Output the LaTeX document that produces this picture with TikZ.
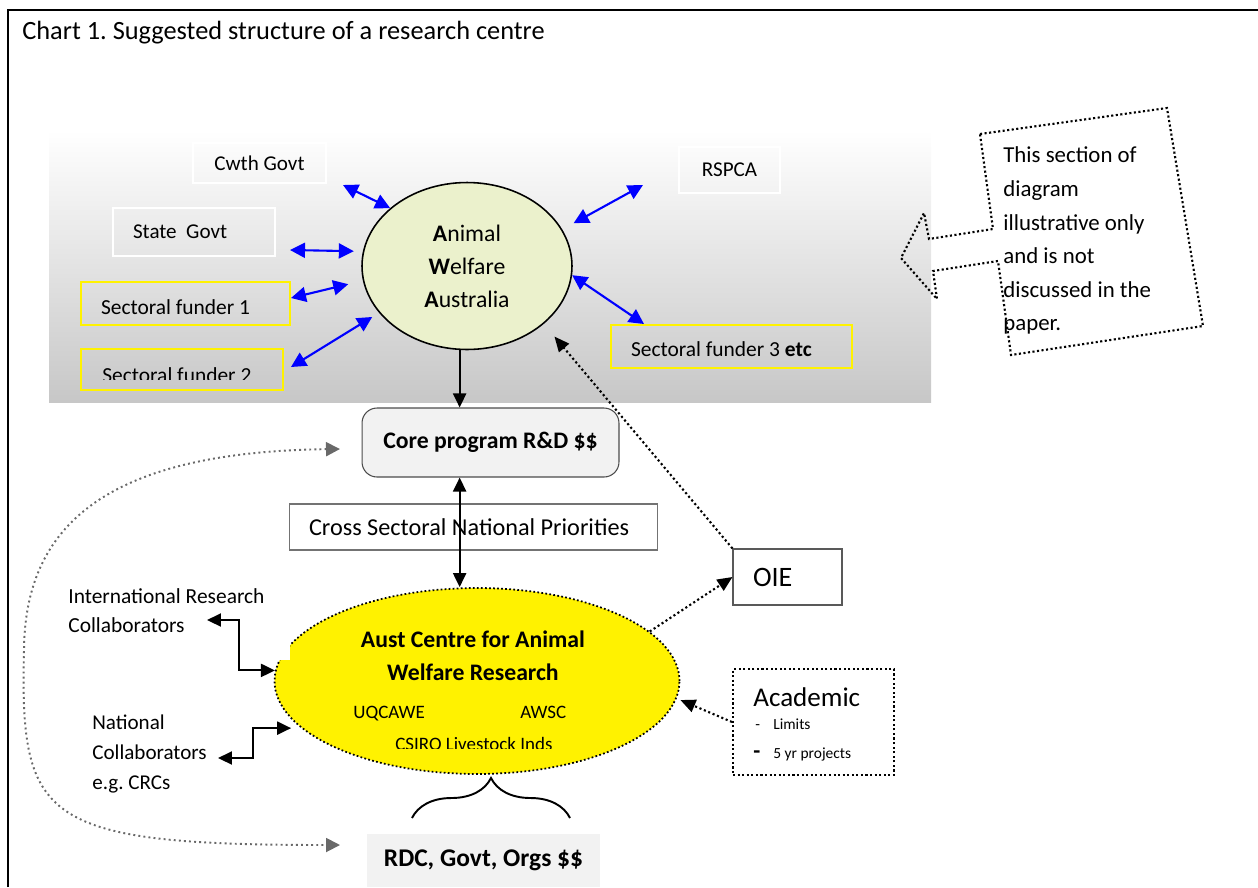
\documentclass[tikz,border=0pt]{standalone}
\usepackage{fontspec}
\setmainfont{Carlito}
\usetikzlibrary{positioning,shapes.geometric,arrows.meta,decorations.pathreplacing}
\frenchspacing

\definecolor{awafill}{RGB}{235,241,204}
\definecolor{boxgray}{RGB}{242,242,242}
\definecolor{curvegray}{RGB}{105,105,105}

\begin{document}
\begin{tikzpicture}[
  x=0.02cm, y=-0.02cm,
  every node/.style={font=\fontsize{12}{14}\selectfont},
  txt/.style={inner sep=0pt},
  padbox/.style={inner xsep=0.4cm, inner ysep=0pt, text width=#1, align=flush left},
  whitebox/.style={draw=white, line width=0.8pt},
  yelbox/.style={draw=yellow, line width=1.2pt, font=\fontsize{12.2}{14}\selectfont},
  dotbox/.style={line width=1.2pt, dash pattern=on 1.2pt off 1.4pt},
  bluearr/.style={{Triangle[length=0.3cm,width=0.3cm]}-{Triangle[length=0.3cm,width=0.3cm]}, blue, line width=1.2pt},
  blkarr/.style={-{Triangle[length=0.28cm,width=0.26cm]}, line width=1.2pt},
  blkdbl/.style={{Triangle[length=0.28cm,width=0.26cm]}-{Triangle[length=0.28cm,width=0.26cm]}, line width=1.2pt},
  dotarr/.style={-{Triangle[length=0.3cm,width=0.26cm]}, line width=1.2pt, dash pattern=on 1.2pt off 1.5pt},
  greyarr/.style={{Triangle[length=0.28cm,width=0.28cm]}-{Triangle[length=0.28cm,width=0.28cm]}, curvegray, line width=1.1pt, dash pattern=on 1.1pt off 1.8pt}
]
\useasboundingbox (0,0) rectangle (1258,887);

% outer frame and the shaded band behind the upper part
\draw[line width=1.1pt] (8,887) -- (8,10) -- (1258,10);
\shade[top color=white, bottom color=black!22] (49,130) rectangle (931,402);

\node[txt, anchor=base west, font=\fontsize{15}{18}\selectfont] (title) at (22,39.5) {Chart 1. Suggested structure of a research centre};

% funders around Animal Welfare Australia
\node[whitebox, minimum width=2.66cm, minimum height=0.8cm] (cwth) at (259.5,163) {Cwth Govt};
\node[whitebox, minimum width=2.02cm, minimum height=0.92cm] (rspca) at (729.5,170) {RSPCA};
\node[whitebox, padbox=2.44cm, minimum height=0.96cm] (state) at (194,232) {State~ Govt};
\node[yelbox, padbox=3.38cm, minimum height=0.86cm, text height=0.44cm] (sf1) at (185.5,303.5) {Sectoral funder 1};
\node[yelbox, padbox=3.24cm, minimum height=0.82cm] (sf2) at (182,369.5) {};
\begin{scope}
  \clip (81,349) rectangle (283,379);
  \node[txt, anchor=base west, font=\fontsize{12.2}{14}\selectfont] (sf2txt) at (102,382) {Sectoral funder 2};
\end{scope}
\node[yelbox, padbox=4.02cm, minimum height=0.86cm, text height=0.42cm] (sf3) at (731.5,346.5) {Sectoral funder 3 \textbf{etc}};

\node[ellipse, draw, line width=0.9pt, fill=awafill, minimum width=4.2cm, minimum height=3.34cm,
      inner sep=0pt, align=center, font=\fontsize{13.5}{18.8}\selectfont] (awa) at (467,266)
      {\textbf{A}nimal\\\textbf{W}elfare\\\textbf{A}ustralia};

\coordinate (cwthA)  at (343,185);
\coordinate (stateA) at (290,250);
\coordinate (sf1A)   at (291,298);
\coordinate (sf2A)   at (291,367);
\coordinate (rspcaA) at (643,185);
\coordinate (sf3A)   at (644,324);
\draw[bluearr] (cwthA) -- (awa.143);
\draw[bluearr, shorten >=0.18cm] (stateA) -- (awa.172);
\draw[bluearr, shorten >=0.3cm] (sf1A) -- (awa.188);
\draw[bluearr, shorten >=0.16cm] (sf2A) -- (awa.208);
\draw[bluearr, shorten >=0.26cm] (rspcaA) -- (awa.21);
\draw[bluearr] (sf3A) -- (awa.-5);

% note on the right
\draw[dotbox] (980,134) -- (1167,108) -- (1203,326) -- (1011,355) -- (998,261) -- (933,271)
  -- (937,299) -- (901,258) -- (924,213) -- (929,239) -- (993,229) -- cycle;
\node[txt, anchor=west, align=left, font=\fontsize{13}{19.1}\selectfont] (note) at (1003,240.7)
  {This section of\\diagram\\illustrative only\\and is not\\discussed in the\\paper.};

% core funding and the centre
\node[draw=black!70, fill=boxgray, rounded corners=0.3cm, line width=0.6pt, minimum width=5.14cm,
      minimum height=1.38cm, font=\bfseries\fontsize{13.5}{16}\selectfont] (core) at (490.5,442.5) {Core program R\&D \$\$};
\node[draw=black!55, line width=0.6pt, padbox=6.58cm, minimum height=0.92cm,
      font=\fontsize{13.8}{16}\selectfont] (cross) at (473.5,527) {Cross Sectoral National Priorities};
\node[draw=black!65, line width=0.6pt, padbox=1.38cm, minimum height=1.12cm,
      font=\fontsize{16}{19}\selectfont] (oie) at (787.5,577) {OIE};

\node[ellipse, fill=yellow, draw, line width=1pt, dash pattern=on 1pt off 1.3pt,
      minimum width=8.1cm, minimum height=3.72cm] (acawr) at (477,681) {};
\fill[white] (276,641) rectangle (290,660);
\node[txt, align=center, font=\bfseries\fontsize{13.5}{18.8}\selectfont] (acawrname) at (473,655.3)
  {Aust Centre for Animal\\Welfare Research};
\node[txt, anchor=base west, font=\fontsize{10.8}{13}\selectfont] (uq) at (353,718) {UQCAWE};
\node[txt, anchor=base west, font=\fontsize{10.8}{13}\selectfont] (awsc) at (520,718) {AWSC};
\begin{scope}
  \clip (300,700) rectangle (660,748);
  \node[txt, anchor=base west, font=\fontsize{10.8}{13}\selectfont] (csiro) at (395,750) {CSIRO Livestock Inds};
\end{scope}

\node[txt, anchor=west, align=left, font=\fontsize{12.2}{16.5}\selectfont] (intl) at (68,611)
  {International Research\\Collaborators};
\node[txt, anchor=west, align=left, font=\fontsize{12}{17}\selectfont] (natl) at (92,754)
  {National\\Collaborators\\e.g. CRCs};

\node[draw, dotbox, minimum width=3.22cm, minimum height=2.12cm] (acad) at (813.5,722) {};
\node[txt, anchor=base west, font=\fontsize{15.4}{18}\selectfont] (acadname) at (753,706) {Academic};
\node[txt, anchor=base west, font=\fontsize{8.8}{10}\selectfont] (limits) at (755,729) {\makebox[0.36cm][l]{-}Limits};
\node[txt, anchor=base west, font=\fontsize{8.8}{10}\selectfont] (projects) at (753,758)
  {\makebox[0.4cm][l]{\fontsize{13}{13}\selectfont\bfseries -}5 yr projects};

\node[fill=boxgray, minimum width=4.66cm, minimum height=1.06cm,
      font=\bfseries\fontsize{14.5}{17}\selectfont] (rdc) at (483.5,860.5) {RDC, Govt, Orgs \$\$};

\coordinate (braceL) at (412,818);
\coordinate (braceR) at (570,818);
\draw[decorate, decoration={brace, amplitude=0.8cm}, line width=1.1pt] (braceL) -- (braceR);

% connectors
\draw[blkarr] (awa.265) -- (core.north -| awa.265);
\draw[blkdbl] (core.south -| awa.265) -- (acawr.north -| awa.265);
\draw[dotarr, shorten >=0.33cm] (oie.north west) -- (awa.-37);
\draw[dotarr] (acawr.16) -- (oie.west);
\draw[dotarr, shorten >=0.08cm] (acad.west) -- (acawr.-5);

\coordinate (intlA) at (207,620);
\coordinate (natlA) at (218,758);
\draw[blkdbl] (intlA) -- ++(32,0) |- (acawr.177);
\draw[blkdbl, shorten >=0.2cm] (natlA) -- ++(35,0) |- (acawr.195);

\coordinate (coreIn) at (340,449);
\coordinate (rdcIn)  at (340,845);
\draw[greyarr] (coreIn) .. controls (100,452) and (25,530) .. (24,650)
  .. controls (20,820) and (40,845) .. (rdcIn);

\end{tikzpicture}
\end{document}
